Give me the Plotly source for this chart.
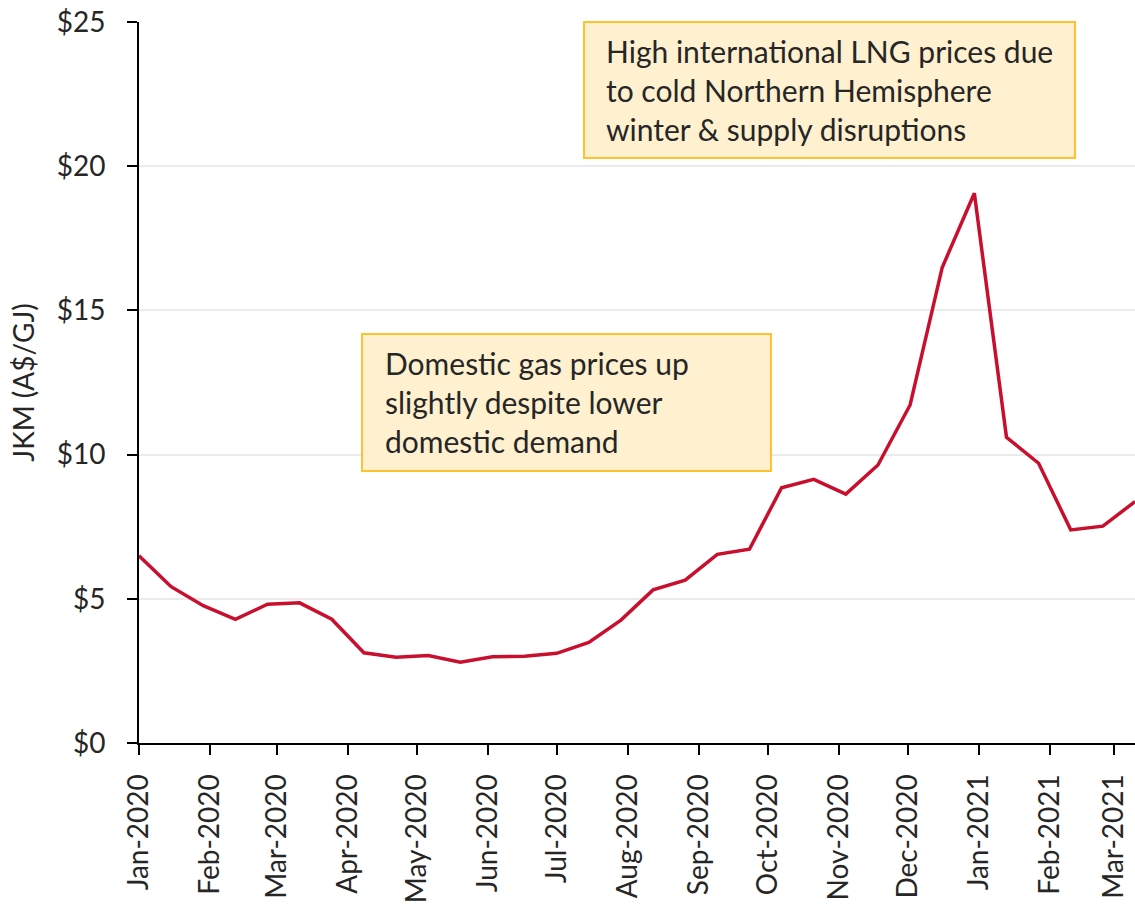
import plotly.graph_objects as go

# fortnightly JKM price, A$/GJ
dates = ["2020-01-01", "2020-01-15", "2020-01-29", "2020-02-12", "2020-02-26",
         "2020-03-11", "2020-03-25", "2020-04-08", "2020-04-22", "2020-05-06",
         "2020-05-20", "2020-06-03", "2020-06-17", "2020-07-01", "2020-07-15",
         "2020-07-29", "2020-08-12", "2020-08-26", "2020-09-09", "2020-09-23",
         "2020-10-07", "2020-10-21", "2020-11-04", "2020-11-18", "2020-12-02",
         "2020-12-16", "2020-12-30", "2021-01-13", "2021-01-27", "2021-02-10",
         "2021-02-24", "2021-03-10"]
jkm = [6.49, 5.42, 4.76, 4.29, 4.81, 4.86, 4.29, 3.13, 2.97, 3.03,
       2.80, 2.99, 3.01, 3.11, 3.49, 4.26, 5.31, 5.65, 6.54, 6.72,
       8.85, 9.14, 8.63, 9.64, 11.72, 16.49, 19.06, 10.60, 9.70, 7.39,
       7.52, 8.37]

y_ticks = [0, 5, 10, 15, 20, 25]
y_labels = ["$0", "$5", "$10", "$15", "$20", "$25"]

note_lng = "High international LNG prices due<br>to cold Northern Hemisphere<br>winter & supply disruptions"
note_dom = "Domestic gas prices up<br>slightly despite lower<br>domestic demand"

FONT = "Lato"
TXT = "#262626"

fig = go.Figure()
fig.add_trace(go.Scatter(
    x=dates, y=jkm, mode="lines",
    line=dict(color="#C8102E", width=3.5),
    name="JKM", showlegend=False
))

# callout boxes (paper coords), text drawn on top
for x0, x1, y0, y1 in [(0.4468, 0.9398, 0.8114, 1.0), (0.2239, 0.6345, 0.3773, 0.5673)]:
    fig.add_shape(type="rect", xref="paper", yref="paper",
                  x0=x0, x1=x1, y0=y0, y1=y1,
                  fillcolor="#FFF1CF", line=dict(color="#FFC12E", width=2), layer="above")

txt = dict(xref="paper", yref="paper", xanchor="left", yanchor="middle",
           showarrow=False, align="left",
           font=dict(family=FONT, size=30, color=TXT))
fig.add_annotation(text=note_lng, x=0.4669, y=0.9057, **txt)
fig.add_annotation(text=note_dom, x=0.245, y=0.4723, **txt)

fig.update_xaxes(
    range=[dates[0], dates[-1]], type="date",
    tick0="2020-01-01", dtick="M1", tickformat="%b-%Y", tickangle=-90,
    ticks="outside", ticklen=10, tickcolor="black", tickwidth=2,
    ticklabelstandoff=8,
    showline=True, linecolor="black", linewidth=2, showgrid=False,
    tickfont=dict(family=FONT, size=28, color=TXT)
)
fig.update_yaxes(
    range=[0, 25], tickvals=y_ticks, ticktext=y_labels,
    ticks="outside", ticklen=10, tickcolor="black", tickwidth=2,
    ticklabelstandoff=16,
    showline=True, linecolor="black", linewidth=2,
    showgrid=True, gridcolor="#EBEBEB", gridwidth=2, zeroline=False,
    tickfont=dict(family=FONT, size=28, color=TXT),
    title=dict(text="JKM (A$/GJ)", font=dict(family=FONT, size=28, color=TXT), standoff=14)
)
fig.update_layout(
    width=1135, height=904,
    margin=dict(l=139, r=0, t=22, b=161),
    plot_bgcolor="white", paper_bgcolor="white",
    font=dict(family=FONT, color=TXT)
)
# drop the default body margin so the figure sits at the page corner
fig.write_html("out.html", config={"displayModeBar": False},
               post_script="document.body.style.margin='0';")
